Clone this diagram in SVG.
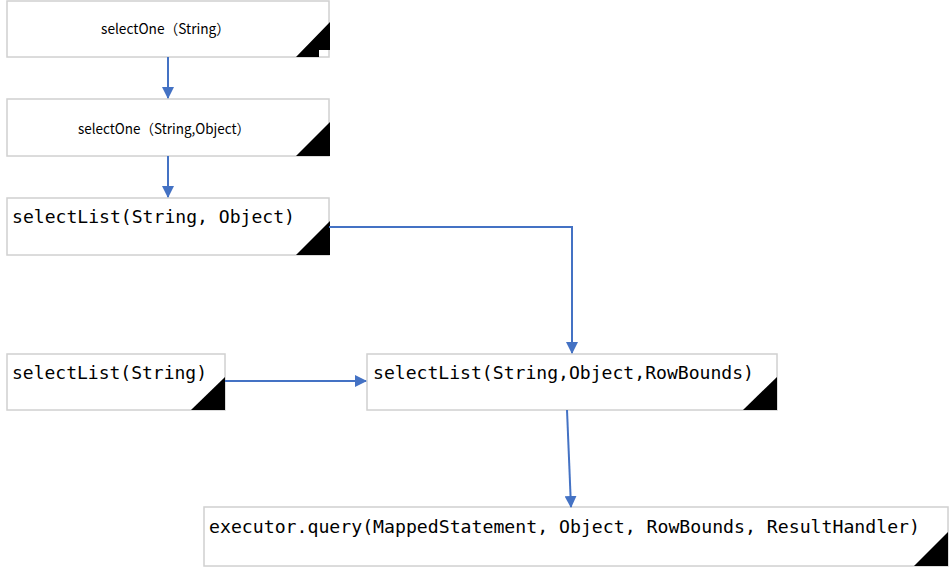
<svg xmlns="http://www.w3.org/2000/svg" width="950" height="567" viewBox="0 0 950 567">
<style>
.box{fill:#fff;stroke:#d0d0d0;stroke-width:1.5}
.tri{fill:#000}
.sm{font-family:"Noto Sans CJK SC","Noto Sans",sans-serif;font-size:14px;fill:#000}
.mono{font-family:"DejaVu Sans Mono","Liberation Mono",monospace;font-size:18px;fill:#000}
.con{fill:none;stroke:#4472C4;stroke-width:2}
</style>
<defs>
<marker id="arr" markerWidth="12" markerHeight="12" refX="11" refY="6" orient="auto" markerUnits="userSpaceOnUse">
<path d="M0,0 L12,6 L0,12 Z" fill="#4472C4"/>
</marker>
</defs>
<rect width="950" height="567" fill="#fff"/>
<g id="n1">
<rect class="box" x="7" y="1" width="322" height="56"/>
<polygon class="tri" points="296,57 330,22 330,50 319,50 319,57"/>
<text class="sm" x="101" y="34" textLength="129" lengthAdjust="spacingAndGlyphs">selectOne（String）</text>
</g>
<g id="n2">
<rect class="box" x="7" y="99" width="322" height="57"/>
<polygon class="tri" points="296,156 330,122 330,156"/>
<text class="sm" x="78" y="134" textLength="172" lengthAdjust="spacingAndGlyphs">selectOne（String,Object）</text>
</g>
<g id="n3">
<rect class="box" x="7" y="198" width="322" height="57"/>
<polygon class="tri" points="296,255 330,221 330,255"/>
<text class="mono" x="12" y="223" textLength="283" lengthAdjust="spacingAndGlyphs">selectList(String, Object)</text>
</g>
<g id="n4">
<rect class="box" x="7" y="354" width="218" height="56"/>
<polygon class="tri" points="191,410 225,377 225,410"/>
<text class="mono" x="12" y="379" textLength="195" lengthAdjust="spacingAndGlyphs">selectList(String)</text>
</g>
<g id="n5">
<rect class="box" x="367" y="354" width="410" height="56"/>
<polygon class="tri" points="743,410 777,377 777,410"/>
<text class="mono" x="373" y="379" textLength="381" lengthAdjust="spacingAndGlyphs">selectList(String,Object,RowBounds)</text>
</g>
<g id="n6">
<rect class="box" x="204" y="507" width="744" height="59"/>
<polygon class="tri" points="914,566 948,532 948,566"/>
<text class="mono" x="209" y="533" textLength="711" lengthAdjust="spacingAndGlyphs">executor.query(MappedStatement, Object, RowBounds, ResultHandler)</text>
</g>
<g id="connectors">
<line class="con" x1="168" y1="57" x2="168" y2="98" marker-end="url(#arr)"/>
<line class="con" x1="168" y1="156" x2="168" y2="197" marker-end="url(#arr)"/>
<polyline class="con" points="329,227 572,227 572,353" marker-end="url(#arr)"/>
<line class="con" x1="225" y1="381" x2="366" y2="381" marker-end="url(#arr)"/>
<line class="con" x1="567" y1="410" x2="571" y2="507" marker-end="url(#arr)"/>
</g>
</svg>
